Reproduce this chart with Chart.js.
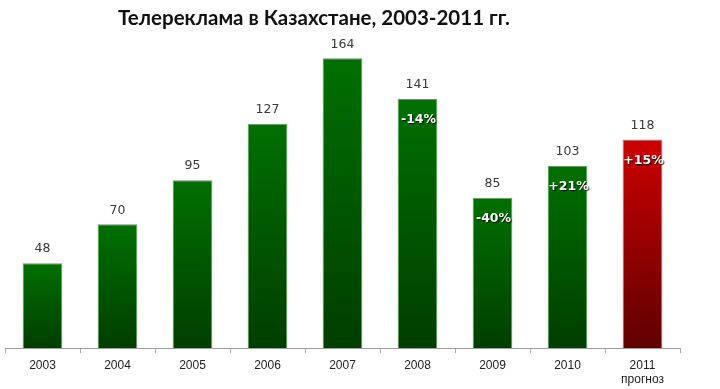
<!DOCTYPE html>
<html>
<head>
<meta charset="utf-8">
<script src="https://cdn.jsdelivr.net/npm/chart.js@4/dist/chart.umd.min.js"></script>
<style>
  html, body { margin: 0; padding: 0; background: #fff; }
  #wrap { width: 720px; height: 389px; position: relative; }
</style>
</head>
<body>
<div id="wrap"><canvas id="chart"></canvas></div>
<script>
// data
const years = ['2003', '2004', '2005', '2006', '2007', '2008', '2009', '2010', ['2011', 'прогноз']];
const values = [48, 70, 95, 127, 164, 141, 85, 103, 118];
const changes = ['', '', '', '', '', '-14%', '-40%', '+21%', '+15%'];
const forecastIndex = 8;
const chartTitle = 'Телереклама в Казахстане, 2003-2011 гг.';

function barFill(ctx) {
    const chart = ctx.chart;
    const area = chart.chartArea;
    const forecast = ctx.dataIndex === forecastIndex;
    if (!area) return forecast ? '#a00000' : '#005a00';
    const top = chart.scales.y.getPixelForValue(ctx.raw);
    const g = chart.ctx.createLinearGradient(0, top, 0, area.bottom);
    if (forecast) {
        g.addColorStop(0, '#cc0000');
        g.addColorStop(1, '#600000');
    } else {
        g.addColorStop(0, '#007000');
        g.addColorStop(1, '#003e00');
    }
    return g;
}

// title + value labels + percent labels
const labelsPlugin = {
    id: 'labels',
    afterDatasetsDraw(chart) {
        const c = chart.ctx;
        c.save();
        c.textAlign = 'center';
        c.textBaseline = 'middle';
        c.fillStyle = '#111';
        c.font = 'bold 20.5px Lato';
        c.fillText(chartTitle, 314, 18);

        const meta = chart.getDatasetMeta(0);
        meta.data.forEach((bar, i) => {
            c.fillStyle = '#3a3a3a';
            c.font = '12.5px "DejaVu Sans"';
            c.fillText(String(values[i]), bar.x, bar.y - 14);
            if (changes[i]) {
                c.save();
                c.font = 'bold 12.5px "DejaVu Sans"';
                c.shadowColor = 'rgba(0,0,0,0.8)';
                c.shadowOffsetX = 1;
                c.shadowOffsetY = 1;
                c.shadowBlur = 1;
                c.fillStyle = '#fff';
                c.fillText(changes[i], bar.x + 1, bar.y + 21);
                c.restore();
            }
        });
        c.restore();
    }
};

new Chart(document.getElementById('chart'), {
    type: 'bar',
    data: {
        labels: years,
        datasets: [{
            data: values,
            backgroundColor: barFill,
            borderColor: ctx => ctx.dataIndex === forecastIndex ? '#d86060' : '#5aa05a',
            borderWidth: 1,
            categoryPercentage: 1,
            barPercentage: 0.53
        }]
    },
    options: {
        responsive: true,
        maintainAspectRatio: false,
        animation: false,
        layout: { padding: { left: 5, right: 40, top: 30, bottom: 0 } },
        plugins: {
            legend: { display: false },
            tooltip: { enabled: false },
            title: { display: false }
        },
        scales: {
            x: {
                grid: { offset: true, drawOnChartArea: false, drawTicks: true, tickLength: 5, color: '#a8a8a8' },
                border: { display: true, color: '#a0a0a0' },
                ticks: {
                    color: '#222',
                    font: { family: '"Liberation Sans Narrow", "Liberation Sans"', size: 12 },
                    padding: 5,
                    maxRotation: 0
                },
                afterFit: s => { s.height = 41; }
            },
            y: {
                display: false,
                min: 0,
                max: 180
            }
        }
    },
    plugins: [labelsPlugin]
});
</script>
</body>
</html>
